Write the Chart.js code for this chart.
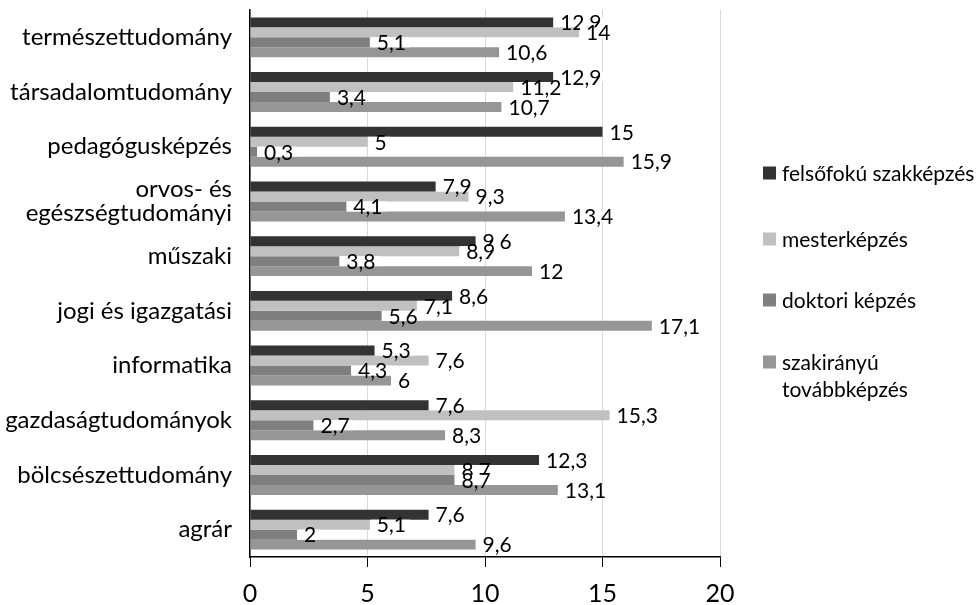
<!DOCTYPE html>
<html lang="hu">
<head>
    <meta charset="UTF-8">
    <title>Képzési terület szerinti megoszlás</title>
    <script src="https://cdn.jsdelivr.net/npm/chart.js"></script>
    <style>
        html, body { margin: 0; padding: 0; background: #fff; }
        .chart-container { position: relative; width: 980px; height: 605px; }
    </style>
</head>
<body>
    <div class="chart-container">
        <canvas id="chart"></canvas>
    </div>

    <script>
        // categories top to bottom
        const categories = [
            'természettudomány',
            'társadalomtudomány',
            'pedagógusképzés',
            ['orvos- és', 'egészségtudományi'],
            'műszaki',
            'jogi és igazgatási',
            'informatika',
            'gazdaságtudományok',
            'bölcsészettudomány',
            'agrár'
        ];

        const seriesNames = [
            'felsőfokú szakképzés',
            'mesterképzés',
            'doktori képzés',
            'szakirányú\ntovábbképzés'
        ];

        const felsofoku = [12.9, 12.9, 15, 7.9, 9.6, 8.6, 5.3, 7.6, 12.3, 7.6];
        const mester = [14, 11.2, 5, 9.3, 8.9, 7.1, 7.6, 15.3, 8.7, 5.1];
        const doktori = [5.1, 3.4, 0.3, 4.1, 3.8, 5.6, 4.3, 2.7, 8.7, 2];
        const szakiranyu = [10.6, 10.7, 15.9, 13.4, 12, 17.1, 6, 8.3, 13.1, 9.6];

        const xTicks = [0, 5, 10, 15, 20];

        const colors = ['#333333', '#c0c0c0', '#7f7f7f', '#969696'];
        const font = 'Lato, "Open Sans", sans-serif';

        // value labels at the end of each bar, white box behind
        const valueLabels = {
            id: 'valueLabels',
            afterDatasetsDraw(chart) {
                const ctx = chart.ctx;
                ctx.save();
                ctx.font = '21px ' + font;
                ctx.textBaseline = 'middle';
                chart.data.datasets.forEach((ds, i) => {
                    const meta = chart.getDatasetMeta(i);
                    meta.data.forEach((bar, j) => {
                        const text = String(ds.data[j]).replace('.', ',');
                        const w = ctx.measureText(text).width;
                        ctx.fillStyle = '#fff';
                        ctx.fillRect(bar.x + 1, bar.y - bar.height / 2, w + 10, bar.height);
                        ctx.fillStyle = '#000';
                        ctx.fillText(text, bar.x + 7, bar.y + 1);
                    });
                });
                ctx.restore();
            }
        };

        // legend on the right side
        const sideLegend = {
            id: 'sideLegend',
            afterDraw(chart) {
                const ctx = chart.ctx;
                const itemY = [173, 239, 300, 362];
                ctx.save();
                ctx.font = '21px ' + font;
                ctx.textBaseline = 'middle';
                chart.data.datasets.forEach((ds, i) => {
                    const y = itemY[i];
                    ctx.fillStyle = ds.backgroundColor;
                    ctx.fillRect(763, y - 6.5, 13, 13);
                    ctx.fillStyle = '#000';
                    ds.label.split('\n').forEach((line, k) => {
                        ctx.fillText(line, 782, y + 1 + k * 27);
                    });
                });
                ctx.restore();
            }
        };

        new Chart(document.getElementById('chart'), {
            type: 'bar',
            data: {
                labels: categories,
                datasets: [
                    { label: seriesNames[0], data: felsofoku, backgroundColor: colors[0] },
                    { label: seriesNames[1], data: mester, backgroundColor: colors[1] },
                    { label: seriesNames[2], data: doktori, backgroundColor: colors[2] },
                    { label: seriesNames[3], data: szakiranyu, backgroundColor: colors[3] }
                ]
            },
            options: {
                indexAxis: 'y',
                responsive: true,
                maintainAspectRatio: false,
                animation: false,
                layout: { padding: { top: 10, right: 260, left: 0, bottom: 0 } },
                datasets: {
                    bar: { categoryPercentage: 0.73, barPercentage: 1, borderWidth: 0 }
                },
                plugins: {
                    legend: { display: false },
                    tooltip: { enabled: false }
                },
                scales: {
                    x: {
                        min: 0,
                        max: 20,
                        afterBuildTicks: (scale) => { scale.ticks = xTicks.map(v => ({ value: v })); },
                        afterFit: (scale) => { scale.height = 48; },
                        grid: { color: '#d9d9d9', lineWidth: 1, tickColor: '#000', tickLength: 10 },
                        border: { color: '#000', width: 1.5 },
                        ticks: { color: '#000', font: { family: font, size: 25 }, padding: 12 }
                    },
                    y: {
                        afterFit: (scale) => {
                            scale.width = 250;
                            scale.paddingTop = 0;
                            scale.paddingBottom = 0;
                        },
                        grid: { display: false, drawTicks: false },
                        border: { color: '#000', width: 1.5 },
                        ticks: { color: '#000', font: { family: font, size: 24, lineHeight: 1.0 }, padding: 18 }
                    }
                }
            },
            plugins: [valueLabels, sideLegend]
        });
    </script>
</body>
</html>
